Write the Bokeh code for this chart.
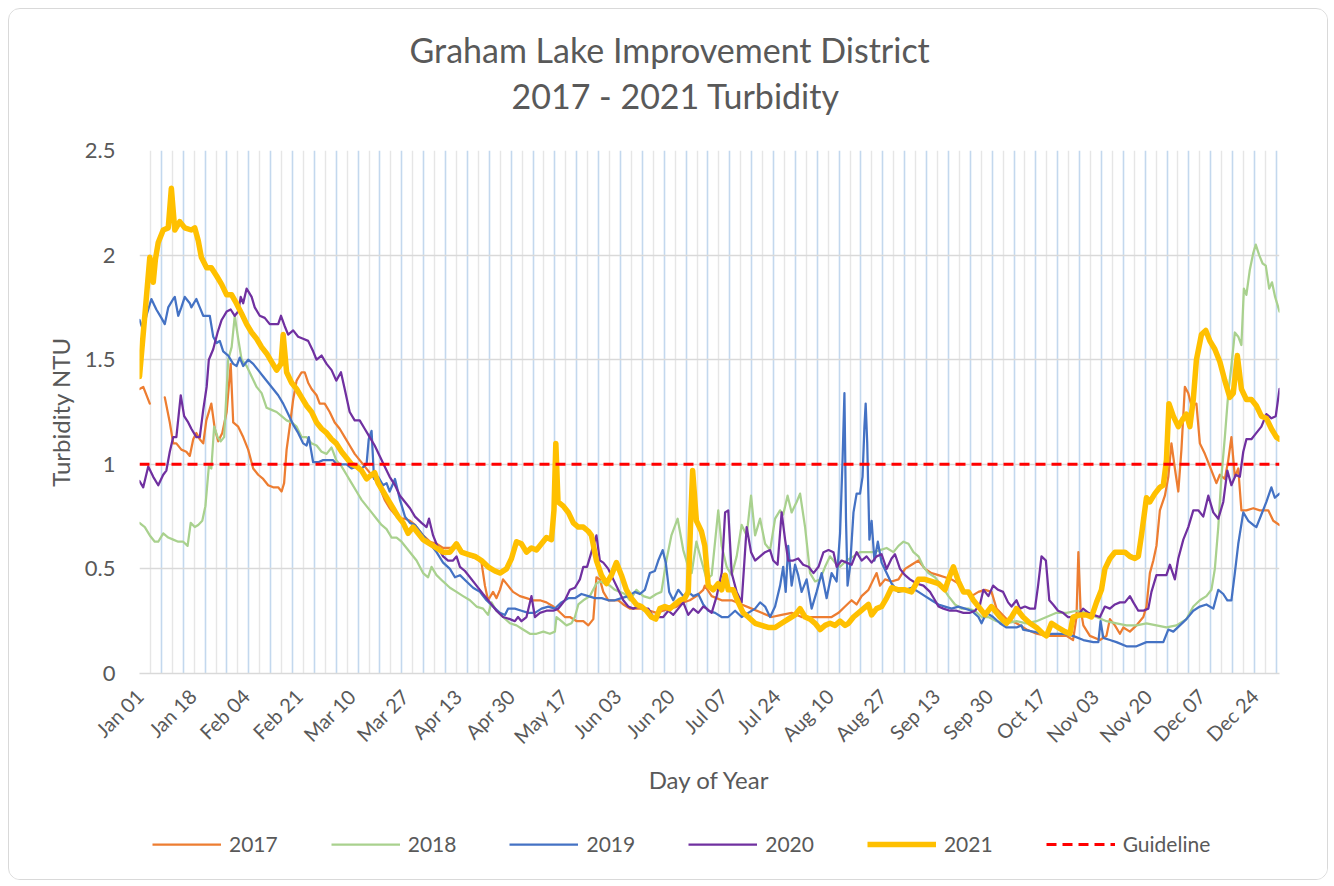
import math
from bokeh.plotting import figure
from bokeh.layouts import column
from bokeh.models import Range1d, FixedTicker, Legend, LegendItem, Title, NumeralTickFormatter
from bokeh.embed import file_html
from bokeh.resources import INLINE

NaN = float("nan")

TICK_LABELS = ["Jan 01", "Jan 18", "Feb 04", "Feb 21", "Mar 10", "Mar 27", "Apr 13", "Apr 30",
               "May 17", "Jun 03", "Jun 20", "Jul 07", "Jul 24", "Aug 10", "Aug 27", "Sep 13",
               "Sep 30", "Oct 17", "Nov 03", "Nov 20", "Dec 07", "Dec 24"]
TICK_DAYS = [0, 17, 34, 51, 68, 85, 102, 119, 136, 153, 170, 187, 204, 221, 238, 255,
             272, 289, 306, 323, 340, 357]

GUIDELINE = 1.0

# ---- 2017 ----
D17 = [0, 1.2, 3.3, 5.5, 8.1, 9.7, 10.8, 11.8, 13.4, 15.0, 16.1, 17.2, 18.2, 19.3, 20.4, 21.4, 23.0, 24.1,
       25.2, 26.5, 27.9, 29.2, 30.0, 31.6, 33.2, 34.8, 36.4, 38.0, 39.6, 41.2, 42.8, 44.4, 45.5, 46.3,
       47.1, 48.1, 49.2, 50.3, 51.9, 52.9, 54.0, 55.1, 56.7, 57.7, 59.3, 60.9, 62.5, 64.1, 65.7, 67.3,
       68.9, 70.5, 72.1, 73.7, 75.3, 76.9, 78.5, 80.1, 81.8, 83.4, 85.0, 86.6, 88.2, 90.8, 93.0, 95.1,
       97.2, 99.4, 101.5, 103.6, 105.8, 107.9, 109.5, 110.6, 111.6, 113.2, 114.3, 115.4, 116.4, 118.0,
       119.6, 121.8, 123.9, 126.0, 128.2, 130.3, 132.5, 134.1, 136.2, 137.8, 140.0, 142.1, 143.7, 145.3,
       146.3, 147.4, 148.5, 150.1, 151.7, 153.3, 154.9, 157.0, 159.1, 161.3, 163.4, 165.5, 167.7, 169.8,
       172.0, 174.1, 176.2, 178.3, 180.5, 181.0, 183.2, 186.4, 189.6, 192.8, 196.0, 199.2, 202.4, 205.6,
       208.8, 212.0, 215.2, 218.4, 221.6, 223.8, 225.9, 228.0, 229.6, 231.2, 233.4, 235.0, 236.0, 237.1,
       238.7, 240.8, 243.0, 245.1, 247.2, 249.4, 251.5, 253.6, 255.8, 257.9, 260.0, 262.2, 264.3, 266.4,
       268.6, 270.7, 272.8, 274.4, 277.6, 280.8, 284.0, 287.2, 290.4, 293.6, 296.8, 298.9, 300.0, 300.6,
       301.3, 302.2, 304.3, 307.5, 309.6, 310.7, 312.3, 313.9, 315.0, 317.1, 319.2, 321.4, 322.4, 323.5,
       324.6, 325.6, 326.7, 328.3, 329.4, 330.4, 331.5, 332.6, 333.6, 334.7, 335.8, 336.8, 338.4, 339.5,
       341.1, 342.7, 344.8, 345.9, 347.5, 348.6, 349.6, 350.7, 351.8, 352.8, 354.4, 356.6, 358.7, 361.4,
       363.0, 365.0]
V17 = [1.36, 1.37, 1.29, NaN, 1.32, 1.20, 1.10, 1.10, 1.07, 1.06, 1.04, 1.12, 1.15, 1.12, 1.10, 1.21, 1.29, 1.17,
       1.11, 1.15, 1.25, 1.48, 1.20, 1.18, 1.13, 1.07, 0.98, 0.95, 0.93, 0.90, 0.89, 0.89, 0.87, 0.91,
       1.07, 1.18, 1.31, 1.40, 1.44, 1.44, 1.39, 1.36, 1.33, 1.29, 1.29, 1.25, 1.20, 1.17, 1.13, 1.09,
       1.05, 1.02, 0.99, 0.96, 0.93, 0.89, 0.83, 0.79, 0.76, 0.74, 0.74, 0.73, 0.71, 0.66, 0.63, 0.62,
       0.60, 0.60, 0.61, 0.58, 0.56, 0.55, 0.53, 0.42, 0.35, 0.39, 0.36, 0.40, 0.45, 0.42,
       0.39, 0.37, 0.36, 0.35, 0.35, 0.34, 0.32, 0.30, 0.27, 0.27, 0.25, 0.25, 0.23, 0.26,
       0.46, 0.45, 0.39, 0.35, 0.35, 0.35, 0.33, 0.31, 0.31, 0.31, 0.30, 0.29, 0.30, 0.31,
       0.32, 0.34, 0.35, 0.37, 0.40, 0.42, 0.37, 0.35, 0.35, 0.33, 0.31, 0.29, 0.27, 0.28,
       0.29, 0.27, 0.27, 0.27, 0.27, 0.29, 0.32, 0.35, 0.33, 0.37, 0.40, 0.45, 0.48, 0.42,
       0.45, 0.44, 0.45, 0.50, 0.52, 0.54, 0.50, 0.48, 0.47, 0.46, 0.45, 0.43, 0.39, 0.37,
       0.39, 0.40, 0.39, 0.31, 0.26, 0.24, 0.21, 0.19, 0.18, 0.18, 0.18, 0.16, 0.27, 0.58,
       0.31, 0.23, 0.18, 0.16, 0.18, 0.26, 0.23, 0.19, 0.22, 0.20, 0.23, 0.27, 0.32, 0.48,
       0.54, 0.61, 0.78, 0.85, 0.94, 1.10, 0.98, 0.87, 1.07, 1.37, 1.34, 1.28, 1.29, 1.10,
       1.05, 0.99, 0.91, 0.95, 0.93, 1.02, 1.13, 0.94, 0.98, 0.78, 0.78, 0.79, 0.78, 0.78,
       0.73, 0.71]

# ---- 2018 ----
D18 = [0, 1.7, 3.3, 4.9, 6.0, 7.6, 9.2, 10.8, 12.4, 14.0, 15.4, 16.4, 17.7, 18.8, 20.1, 21.1, 22.2, 23.0,
       23.9, 25.0, 26.0, 27.1, 28.4, 29.5, 30.5, 31.6, 32.7, 34.3, 35.9, 37.5, 39.1, 40.7, 42.3, 43.9,
       45.5, 47.1, 48.7, 50.3, 51.9, 53.5, 55.1, 56.7, 58.3, 59.9, 61.5, 63.0, 64.7, 66.3, 67.9, 69.5,
       71.1, 72.7, 74.3, 75.9, 77.5, 79.1, 80.7, 82.3, 83.9, 85.5, 87.1, 88.7, 90.8, 92.4, 93.5, 95.1,
       97.2, 99.4, 101.5, 103.6, 105.8, 107.9, 110.0, 111.6, 112.7, 114.3, 116.4, 118.6, 120.7, 122.8,
       125.0, 127.1, 129.3, 131.4, 133.0, 133.5, 135.1, 136.7, 138.3, 139.4, 140.5, 142.1, 144.2, 146.3,
       147.4, 149.0, 150.6, 152.2, 153.8, 155.4, 157.0, 159.1, 161.3, 163.4, 165.5, 167.1, 168.7, 170.3,
       172.3, 174.1, 175.7, 176.8, 178.3, 179.9, 181.6, 183.2, 185.3, 186.4, 188.0, 189.6, 191.2, 192.8,
       194.4, 195.8, 197.1, 198.7, 200.3, 201.9, 203.5, 205.1, 206.1, 207.5, 208.8, 210.4, 211.5, 213.1,
       214.7, 216.3, 217.9, 219.5, 221.1, 222.7, 224.3, 226.4, 228.6, 230.7, 232.8, 235.0, 237.1, 239.2,
       241.4, 243.0, 244.6, 246.2, 247.8, 249.4, 251.0, 252.6, 254.7, 256.8, 259.0, 261.1, 263.2, 265.4,
       267.5, 269.6, 271.8, 274.4, 277.6, 280.8, 284.0, 287.2, 290.4, 293.6, 296.8, 300.0, 303.2, 306.4,
       309.6, 312.8, 316.0, 319.2, 322.4, 325.6, 328.8, 332.0, 335.2, 337.4, 339.5, 341.6, 343.2, 344.3,
       345.4, 346.4, 347.5, 348.6, 349.6, 350.7, 351.8, 352.8, 353.6, 354.4, 355.5, 356.6, 357.4, 358.5,
       359.6, 360.6, 361.7, 362.6, 363.6, 365.0]
V18 = [0.72, 0.70, 0.66, 0.63, 0.63, 0.67, 0.65, 0.64, 0.63, 0.63, 0.61, 0.72, 0.70, 0.71, 0.73, 0.80, 0.99, 0.98,
       1.18, 1.13, 1.11, 1.13, 1.50, 1.56, 1.71, 1.60, 1.50, 1.47, 1.42, 1.37, 1.34, 1.27, 1.26, 1.25,
       1.23, 1.21, 1.20, 1.18, 1.13, 1.13, 1.10, 1.09, 1.06, 1.05, 1.08, 1.02, 0.99, 0.95, 0.91, 0.87,
       0.83, 0.80, 0.77, 0.74, 0.71, 0.69, 0.65, 0.65, 0.63, 0.60, 0.57, 0.54, 0.48, 0.46, 0.51, 0.47,
       0.44, 0.41, 0.39, 0.37, 0.35, 0.32, 0.31, 0.28, 0.34, 0.30, 0.27, 0.24, 0.23, 0.21,
       0.19, 0.19, 0.20, 0.19, 0.20, 0.27, 0.25, 0.23, 0.24, 0.27, 0.33, 0.35, 0.37, 0.43,
       0.44, 0.43, 0.42, 0.40, 0.39, 0.38, 0.35, 0.40, 0.37, 0.36, 0.38, 0.39, 0.54, 0.66,
       0.74, 0.59, 0.51, 0.48, 0.63, 0.54, 0.45, 0.47, 0.78, 0.61, 0.51, 0.47, 0.56, 0.71,
       0.66, 0.85, 0.66, 0.74, 0.62, 0.59, 0.74, 0.78, 0.76, 0.85, 0.77, 0.82, 0.86, 0.70,
       0.48, 0.44, 0.45, 0.51, 0.56, 0.53, 0.51, 0.54, 0.56, 0.58, 0.58, 0.58, 0.59, 0.60,
       0.58, 0.61, 0.63, 0.62, 0.58, 0.56, 0.51, 0.48, 0.46, 0.42, 0.37, 0.33, 0.31, 0.31,
       0.30, 0.27, 0.27, 0.25, 0.24, 0.25, 0.24, 0.25, 0.27, 0.29, 0.29, 0.30, 0.29, 0.27,
       0.25, 0.24, 0.23, 0.23, 0.24, 0.23, 0.22, 0.23, 0.26, 0.32, 0.35, 0.37, 0.40, 0.50,
       0.70, 0.94, 1.13, 1.34, 1.47, 1.63, 1.61, 1.57, 1.84, 1.81, 1.93, 2.01, 2.05, 2.00,
       1.96, 1.95, 1.84, 1.87, 1.80, 1.73]

# ---- 2019 ----
D19 = [0, 1.2, 2.2, 3.8, 5.4, 7.0, 8.1, 9.2, 10.8, 11.3, 12.4, 13.4, 14.5, 16.1, 16.6, 18.2, 19.3, 20.4,
       21.8, 22.5, 23.6, 24.7, 25.7, 26.8, 28.4, 30.0, 31.1, 32.1, 33.2, 34.8, 36.4, 38.0, 39.6, 41.2,
       42.8, 44.4, 46.0, 47.6, 49.2, 50.8, 52.4, 53.5, 54.2, 55.6, 57.2, 58.8, 60.4, 62.0, 63.1, 64.7,
       66.3, 67.9, 69.5, 71.1, 72.7, 73.4, 74.3, 75.1, 76.4, 78.0, 79.1, 80.1, 81.8, 83.4, 85.0, 86.6,
       88.2, 90.8, 93.0, 95.1, 97.2, 99.4, 101.0, 102.6, 104.7, 106.8, 109.0, 111.1, 113.2, 115.4, 117.0,
       118.0, 120.2, 122.3, 124.5, 126.6, 128.7, 130.9, 133.0, 135.1, 137.3, 139.4, 141.5, 143.7, 145.8,
       148.0, 150.1, 152.2, 154.3, 156.5, 158.6, 160.2, 161.8, 163.4, 165.0, 166.1, 167.5, 168.5, 169.6,
       170.9, 172.5, 174.1, 175.7, 177.3, 178.9, 180.5, 182.1, 184.3, 186.4, 188.5, 190.7, 192.8, 194.9,
       197.1, 198.7, 200.3, 201.9, 203.5, 205.1, 206.1, 206.9, 207.7, 208.8, 209.9, 210.9, 212.0, 213.6,
       215.2, 216.8, 218.4, 220.0, 221.6, 223.2, 224.3, 225.1, 225.7, 226.2, 226.7, 227.5, 228.6, 229.6,
       230.7, 231.5, 232.1, 232.5, 233.0, 233.7, 234.4, 235.3, 236.4, 237.6, 239.2, 240.8, 243.0, 245.1,
       247.2, 249.4, 251.5, 253.6, 255.8, 257.9, 260.0, 262.2, 264.3, 266.4, 268.6, 269.6, 271.2, 273.3,
       275.5, 277.6, 280.8, 282.4, 282.9, 286.1, 289.3, 292.5, 295.7, 298.9, 302.2, 305.4, 307.0, 307.7,
       308.6, 310.7, 312.8, 316.0, 319.2, 322.4, 325.6, 327.8, 329.4, 331.0, 333.1, 335.2, 337.4, 339.5,
       341.6, 343.8, 345.4, 347.0, 348.3, 349.6, 350.7, 351.8, 353.4, 355.0, 356.6, 357.6, 359.2, 360.8,
       362.4, 363.5, 365.0]
V19 = [1.69, 1.64, 1.71, 1.79, 1.74, 1.70, 1.67, 1.75, 1.79, 1.80, 1.71, 1.75, 1.80, 1.77, 1.75, 1.79, 1.75, 1.71,
       1.71, 1.71, 1.61, 1.58, 1.59, 1.54, 1.52, 1.48, 1.47, 1.51, 1.47, 1.50, 1.48, 1.45, 1.42, 1.39,
       1.36, 1.33, 1.29, 1.24, 1.19, 1.15, 1.10, 1.09, 1.13, 1.01, 1.01, 1.02, 1.02, 1.02, 1.00, 1.00,
       1.00, 0.98, 0.99, 0.98, 1.00, 1.12, 1.16, 0.93, 0.94, 0.90, 0.91, 0.87, 0.93, 0.83, 0.75, 0.72,
       0.71, 0.66, 0.62, 0.58, 0.53, 0.50, 0.46, 0.47, 0.44, 0.41, 0.39, 0.35, 0.32, 0.29, 0.28,
       0.31, 0.31, 0.30, 0.29, 0.29, 0.31, 0.32, 0.31, 0.34, 0.36, 0.36, 0.38, 0.37, 0.36,
       0.36, 0.35, 0.35, 0.36, 0.37, 0.39, 0.38, 0.40, 0.48, 0.49, 0.54, 0.59, 0.53, 0.39,
       0.35, 0.40, 0.37, 0.39, 0.37, 0.38, 0.33, 0.30, 0.29, 0.27, 0.27, 0.30, 0.27, 0.29,
       0.31, 0.34, 0.32, 0.27, 0.32, 0.42, 0.51, 0.39, 0.61, 0.42, 0.52, 0.47, 0.39, 0.45,
       0.31, 0.39, 0.48, 0.36, 0.48, 0.44, 0.67, 1.02, 1.34, 0.74, 0.42, 0.51, 0.77, 0.86,
       0.86, 0.94, 1.18, 1.29, 1.10, 0.64, 0.73, 0.54, 0.63, 0.53, 0.48, 0.43, 0.39, 0.40,
       0.41, 0.39, 0.37, 0.35, 0.33, 0.32, 0.31, 0.32, 0.31, 0.30, 0.27, 0.24, 0.29, 0.27,
       0.24, 0.22, 0.22, 0.23, 0.21, 0.20, 0.19, 0.19, 0.19, 0.18, 0.16, 0.15, 0.15, 0.25,
       0.17, 0.16, 0.15, 0.13, 0.13, 0.15, 0.15, 0.15, 0.21, 0.20, 0.23, 0.26, 0.30, 0.32,
       0.33, 0.31, 0.40, 0.38, 0.35, 0.35, 0.48, 0.62, 0.77, 0.73, 0.71, 0.70, 0.76, 0.82,
       0.89, 0.84, 0.86]

# ---- 2020 ----
D20 = [0, 1.2, 2.8, 4.4, 6.0, 7.6, 8.6, 9.7, 10.8, 11.8, 13.2, 14.3, 15.6, 16.6, 18.2, 19.3, 20.4, 21.5,
       22.2, 23.6, 25.0, 26.3, 27.9, 29.2, 30.5, 31.6, 32.4, 33.2, 34.3, 35.9, 36.9, 38.5, 40.1, 41.7,
       43.3, 44.4, 45.3, 46.5, 47.6, 49.2, 50.8, 52.4, 54.0, 55.6, 56.7, 58.3, 59.9, 61.5, 63.0, 64.5,
       65.7, 67.3, 68.9, 70.5, 72.1, 73.7, 75.3, 76.9, 78.5, 80.1, 81.8, 83.4, 85.0, 86.6, 88.2, 90.3,
       91.9, 92.7, 94.0, 95.6, 97.2, 98.8, 100.4, 101.5, 102.6, 104.2, 105.8, 107.9, 110.0, 112.2, 114.3,
       116.4, 118.6, 120.2, 121.2, 122.3, 123.9, 125.5, 126.6, 128.2, 130.3, 132.5, 134.1, 136.2, 137.8,
       139.4, 141.0, 142.1, 143.3, 144.7, 146.3, 147.4, 148.5, 150.1, 151.7, 153.3, 154.9, 156.5, 158.1,
       159.7, 161.3, 162.9, 164.5, 166.1, 167.7, 169.3, 170.9, 172.5, 174.1, 175.7, 177.3, 178.9, 180.5,
       181.6, 183.2, 184.8, 186.4, 187.5, 188.5, 189.6, 191.2, 192.8, 194.4, 195.8, 197.1, 198.7, 200.3,
       201.9, 202.9, 204.3, 205.6, 206.7, 207.7, 209.3, 210.9, 212.5, 214.2, 215.8, 217.4, 219.0, 220.6,
       222.2, 223.2, 224.8, 226.4, 228.0, 229.6, 231.2, 232.8, 234.4, 236.0, 237.6, 239.2, 240.8, 241.9,
       243.5, 245.1, 246.7, 248.8, 251.0, 253.1, 254.7, 255.8, 257.4, 259.5, 261.6, 263.8, 265.9, 267.5,
       269.1, 270.2, 271.8, 273.3, 274.9, 276.5, 278.1, 279.2, 280.8, 281.9, 283.5, 285.1, 286.7, 287.7,
       288.8, 290.2, 291.3, 292.5, 294.1, 295.7, 297.3, 298.9, 300.5, 302.1, 303.8, 305.4, 307.5, 309.1,
       310.7, 312.3, 313.9, 315.5, 317.1, 318.2, 319.8, 321.4, 323.0, 324.0, 325.6, 327.2, 328.8, 329.9,
       331.5, 332.6, 334.2, 335.8, 337.4, 339.0, 340.6, 342.2, 343.8, 345.4, 347.0, 348.3, 349.6, 351.0,
       352.3, 353.4, 354.4, 356.0, 357.6, 359.2, 360.8, 362.4, 363.8, 365.0]
V20 = [0.92, 0.89, 0.99, 0.94, 0.90, 0.95, 0.97, 1.06, 1.13, 1.13, 1.33, 1.23, 1.20, 1.17, 1.13, 1.13, 1.26, 1.37,
       1.50, 1.55, 1.63, 1.69, 1.73, 1.74, 1.71, 1.73, 1.80, 1.77, 1.84, 1.80, 1.75, 1.71, 1.70, 1.67,
       1.67, 1.67, 1.71, 1.66, 1.62, 1.64, 1.61, 1.60, 1.59, 1.54, 1.50, 1.52, 1.48, 1.45, 1.40, 1.44,
       1.36, 1.25, 1.21, 1.21, 1.17, 1.13, 1.09, 1.04, 0.99, 0.94, 0.90, 0.85, 0.82, 0.79, 0.75, 0.72,
       0.70, 0.74, 0.66, 0.60, 0.56, 0.54, 0.54, 0.56, 0.51, 0.49, 0.46, 0.42, 0.38, 0.34, 0.30,
       0.27, 0.26, 0.25, 0.27, 0.25, 0.27, 0.37, 0.27, 0.29, 0.30, 0.30, 0.31, 0.35, 0.40,
       0.41, 0.45, 0.51, 0.51, 0.58, 0.66, 0.54, 0.53, 0.50, 0.45, 0.40, 0.35, 0.32, 0.31,
       0.32, 0.31, 0.31, 0.27, 0.27, 0.27, 0.30, 0.28, 0.31, 0.34, 0.28, 0.31, 0.29, 0.32,
       0.31, 0.29, 0.37, 0.48, 0.77, 0.78, 0.48, 0.39, 0.34, 0.70, 0.58, 0.54, 0.56, 0.58,
       0.59, 0.54, 0.52, 0.77, 0.64, 0.54, 0.54, 0.55, 0.52, 0.51, 0.48, 0.51, 0.58, 0.59,
       0.58, 0.51, 0.54, 0.53, 0.52, 0.58, 0.54, 0.56, 0.53, 0.56, 0.57, 0.50, 0.55, 0.57,
       0.50, 0.47, 0.45, 0.43, 0.42, 0.39, 0.35, 0.32, 0.31, 0.30, 0.30, 0.29, 0.29, 0.30,
       0.33, 0.40, 0.37, 0.42, 0.40, 0.39, 0.34, 0.32, 0.35, 0.31, 0.32, 0.31, 0.31, 0.42,
       0.56, 0.54, 0.35, 0.33, 0.30, 0.29, 0.27, 0.27, 0.28, 0.31, 0.29, 0.28, 0.27, 0.32,
       0.31, 0.33, 0.34, 0.34, 0.37, 0.34, 0.30, 0.30, 0.31, 0.39, 0.47, 0.47, 0.47, 0.52,
       0.45, 0.55, 0.64, 0.70, 0.78, 0.78, 0.75, 0.85, 0.77, 0.74, 0.82, 0.97, 0.90, 0.95,
       0.94, 1.06, 1.12, 1.12, 1.15, 1.18, 1.24, 1.22, 1.23, 1.36]

# ---- 2021 ----
D21 = [0, 1.7, 3.3, 4.4, 5.1, 6.0, 7.6, 9.2, 10.2, 11.3, 12.9, 14.5, 16.6, 17.7, 18.8, 19.8, 21.5, 23.0,
       24.7, 26.3, 27.9, 29.5, 31.0, 32.7, 34.3, 35.9, 37.5, 39.1, 40.7, 42.3, 43.9, 45.3, 46.0, 47.1,
       48.7, 50.3, 51.9, 53.5, 55.1, 56.7, 58.3, 59.9, 61.5, 63.0, 64.7, 66.3, 67.9, 69.5, 71.1, 72.7,
       74.3, 75.3, 76.4, 78.0, 79.6, 81.2, 82.8, 84.4, 86.0, 87.6, 89.2, 90.8, 93.0, 95.1, 97.2, 99.4,
       101.5, 103.1, 105.2, 107.4, 109.5, 111.6, 113.8, 115.4, 117.5, 119.1, 120.7, 122.3, 123.9, 125.5,
       127.1, 128.7, 130.3, 131.9, 132.7, 133.3, 134.0, 135.7, 137.3, 138.9, 140.5, 142.1, 143.7, 144.7,
       146.3, 147.9, 149.5, 151.1, 152.7, 154.3, 155.9, 157.5, 159.1, 160.7, 162.3, 163.9, 165.3, 166.6,
       168.2, 169.8, 171.4, 173.0, 174.6, 175.7, 176.4, 177.1, 178.3, 179.9, 181.0, 182.1, 183.7, 185.3,
       186.4, 187.5, 188.5, 190.1, 191.7, 193.3, 194.9, 197.1, 199.2, 201.3, 203.5, 205.6, 207.7, 209.9,
       211.5, 213.1, 214.7, 216.3, 217.9, 219.5, 221.1, 222.7, 224.3, 225.9, 227.0, 228.6, 230.2, 231.8,
       233.4, 234.4, 236.0, 237.6, 239.2, 240.8, 243.0, 245.1, 247.2, 249.4, 251.5, 253.6, 255.8, 257.9,
       259.5, 260.6, 262.2, 263.8, 265.4, 267.0, 268.6, 270.7, 272.8, 275.5, 277.6, 279.2, 280.8, 282.9,
       285.1, 287.2, 289.3, 290.4, 292.0, 294.1, 296.3, 297.9, 298.9, 301.1, 303.2, 304.8, 306.4, 308.0,
       309.1, 310.7, 312.3, 313.9, 315.5, 317.1, 318.7, 319.8, 320.8, 322.4, 323.5, 325.1, 326.7, 327.8,
       328.8, 329.6, 331.0, 332.6, 334.2, 335.2, 336.3, 337.4, 338.4, 340.0, 341.4, 342.7, 344.3, 345.9,
       347.5, 349.1, 350.2, 351.5, 352.8, 354.4, 356.0, 357.6, 359.2, 360.8, 362.4, 364.0, 365.0]
V21 = [1.42, 1.71, 1.99, 1.87, 1.98, 2.06, 2.12, 2.13, 2.32, 2.12, 2.16, 2.13, 2.12, 2.13, 2.07, 1.99, 1.94, 1.94,
       1.90, 1.86, 1.81, 1.81, 1.77, 1.72, 1.67, 1.63, 1.60, 1.56, 1.53, 1.49, 1.45, 1.48, 1.62, 1.44,
       1.39, 1.36, 1.32, 1.28, 1.25, 1.20, 1.17, 1.15, 1.12, 1.10, 1.06, 1.03, 1.00, 0.99, 0.97, 0.93,
       0.95, 0.96, 0.91, 0.87, 0.83, 0.79, 0.75, 0.72, 0.67, 0.70, 0.67, 0.64, 0.62, 0.60, 0.58, 0.58,
       0.62, 0.58, 0.57, 0.56, 0.54, 0.51, 0.49, 0.48, 0.50, 0.55, 0.63, 0.62, 0.58, 0.60,
       0.59, 0.62, 0.65, 0.64, 0.78, 1.10, 0.82, 0.80, 0.77, 0.72, 0.70, 0.70, 0.68, 0.66,
       0.54, 0.47, 0.43, 0.47, 0.53, 0.47, 0.40, 0.36, 0.33, 0.32, 0.30, 0.27, 0.26, 0.31,
       0.32, 0.31, 0.33, 0.35, 0.36, 0.39, 0.70, 0.97, 0.73, 0.68, 0.61, 0.42, 0.40, 0.43,
       0.40, 0.47, 0.40, 0.40, 0.34, 0.29, 0.27, 0.24, 0.23, 0.22, 0.22, 0.24, 0.26, 0.28,
       0.31, 0.27, 0.26, 0.24, 0.21, 0.23, 0.24, 0.23, 0.25, 0.23, 0.24, 0.27, 0.29, 0.31,
       0.33, 0.28, 0.31, 0.32, 0.36, 0.41, 0.40, 0.40, 0.39, 0.45, 0.45, 0.44, 0.43, 0.40,
       0.47, 0.51, 0.44, 0.39, 0.39, 0.35, 0.32, 0.28, 0.32, 0.27, 0.24, 0.27, 0.31, 0.27,
       0.24, 0.22, 0.19, 0.18, 0.24, 0.22, 0.20, 0.19, 0.27, 0.28, 0.28, 0.27, 0.34, 0.40,
       0.50, 0.55, 0.58, 0.58, 0.58, 0.56, 0.55, 0.56, 0.66, 0.84, 0.82, 0.86, 0.89, 0.90,
       1.02, 1.29, 1.23, 1.18, 1.22, 1.24, 1.18, 1.31, 1.50, 1.62, 1.64, 1.59, 1.55, 1.49,
       1.40, 1.32, 1.34, 1.52, 1.36, 1.31, 1.31, 1.28, 1.23, 1.22, 1.17, 1.13, 1.12]

SERIES = [("2017", D17, V17, "#ED7D31", 2.25),
          ("2018", D18, V18, "#A9D18E", 2.25),
          ("2019", D19, V19, "#4472C4", 2.25),
          ("2020", D20, V20, "#7030A0", 2.25),
          ("2021", D21, V21, "#FFC000", 5.5)]
GUIDE_COLOR = "#FF0000"

FONT = "Lato"
TXT = "#595959"

# ---------------- main chart ----------------
p = figure(width=1318, height=810, output_backend="svg", toolbar_location=None, title=None,
           x_range=Range1d(0, 365), y_range=Range1d(0, 2.5),
           min_border_left=130, min_border_right=48, min_border_top=141, min_border_bottom=146)
p.background_fill_color = "white"
p.border_fill_color = "white"
p.outline_line_color = None

week = list(range(0, 366, 7))
mid = [w + 3.5 for w in week if w + 3.5 < 365]
p.xgrid.ticker = FixedTicker(ticks=week, minor_ticks=mid)
p.xgrid.grid_line_color = "#c3d8ee"
p.xgrid.grid_line_width = 1.6
p.xgrid.minor_grid_line_color = "#e6e6e6"
p.xgrid.minor_grid_line_width = 1.4

p.ygrid.ticker = FixedTicker(ticks=[0, 0.5, 1, 1.5, 2, 2.5])
p.ygrid.grid_line_color = "#d9d9d9"
p.ygrid.grid_line_width = 1.5

xa = p.xaxis[0]
xa.ticker = FixedTicker(ticks=TICK_DAYS)
xa.major_label_overrides = {d: lab for d, lab in zip(TICK_DAYS, TICK_LABELS)}
xa.major_label_orientation = math.pi / 4
xa.major_label_text_font = FONT
xa.major_label_text_font_size = "20px"
xa.major_label_text_color = TXT
xa.major_label_standoff = 19
xa.major_tick_out = 0
xa.major_tick_in = 0
xa.minor_tick_out = 0
xa.minor_tick_in = 0
xa.axis_line_color = "#d9d9d9"
xa.axis_line_width = 1.5
xa.axis_label = "Day of Year"
xa.axis_label_text_font = FONT
xa.axis_label_text_font_size = "24px"
xa.axis_label_text_font_style = "normal"
xa.axis_label_text_color = TXT
xa.axis_label_standoff = 5

ya = p.yaxis[0]
ya.ticker = FixedTicker(ticks=[0, 0.5, 1, 1.5, 2, 2.5])
ya.formatter = NumeralTickFormatter(format="0.[0]")
ya.major_label_text_font = FONT
ya.major_label_text_font_size = "22px"
ya.major_label_text_color = TXT
ya.major_label_standoff = 24
ya.major_tick_out = 0
ya.major_tick_in = 0
ya.minor_tick_out = 0
ya.minor_tick_in = 0
ya.axis_line_color = None
ya.axis_label = "Turbidity NTU"
ya.axis_label_text_font = FONT
ya.axis_label_text_font_size = "24px"
ya.axis_label_text_font_style = "normal"
ya.axis_label_text_color = TXT
ya.axis_label_standoff = 7

top_gap = Title(text=" ", text_font_size="10px", standoff=18)
t2 = Title(text="2017 - 2021 Turbidity", align="left", offset=372, standoff=7,
           text_font=FONT, text_font_size="34px", text_font_style="normal", text_color=TXT)
t1 = Title(text="Graham Lake Improvement District", align="left", offset=270, standoff=0,
           text_font=FONT, text_font_size="34px", text_font_style="normal", text_color=TXT)
p.add_layout(top_gap, "above")
p.add_layout(t2, "above")
p.add_layout(t1, "above")

for name, d, v, col, w in SERIES:
    p.line(d, v, line_color=col, line_width=w, line_join="round", line_cap="round")
p.line([0, 365], [GUIDELINE, GUIDELINE], line_color=GUIDE_COLOR, line_width=3, line_dash="10 6")

# ---------------- legend strip (same series, drawn only as legend keys) ----------------
lp = figure(width=1318, height=60, output_backend="svg", toolbar_location=None, title=None,
            x_range=Range1d(0, 365), y_range=Range1d(0, 2.5),
            x_axis_location=None, y_axis_location=None,
            min_border_left=0, min_border_right=0, min_border_top=0, min_border_bottom=0)
lp.grid.visible = False
lp.outline_line_color = None
lp.background_fill_color = "white"
lp.border_fill_color = "white"

items = []
for name, d, v, col, w in SERIES:
    r = lp.line(d, v, line_color=col, line_width=w, visible=False)
    items.append(LegendItem(label=name, renderers=[r]))
g = lp.line([0, 365], [GUIDELINE, GUIDELINE], line_color=GUIDE_COLOR, line_width=3,
            line_dash="10 6", visible=False)
items.append(LegendItem(label="Guideline", renderers=[g]))

# the column aligns this strip's frame with the main chart's frame
legend = Legend(items=items, orientation="horizontal", location=(13, 23),
                glyph_width=69, glyph_height=22, label_standoff=8, spacing=53,
                padding=0, margin=0, border_line_color=None, background_fill_alpha=0,
                label_text_font=FONT, label_text_font_size="21px", label_text_color=TXT)
lp.add_layout(legend, "center")

layout = column(p, lp, spacing=0,
                styles={"margin": "8px 0 0 8px", "border": "1px solid #d9d9d9",
                        "border-radius": "12px", "overflow": "hidden"})

open("out.html", "w").write(file_html(layout, INLINE))
